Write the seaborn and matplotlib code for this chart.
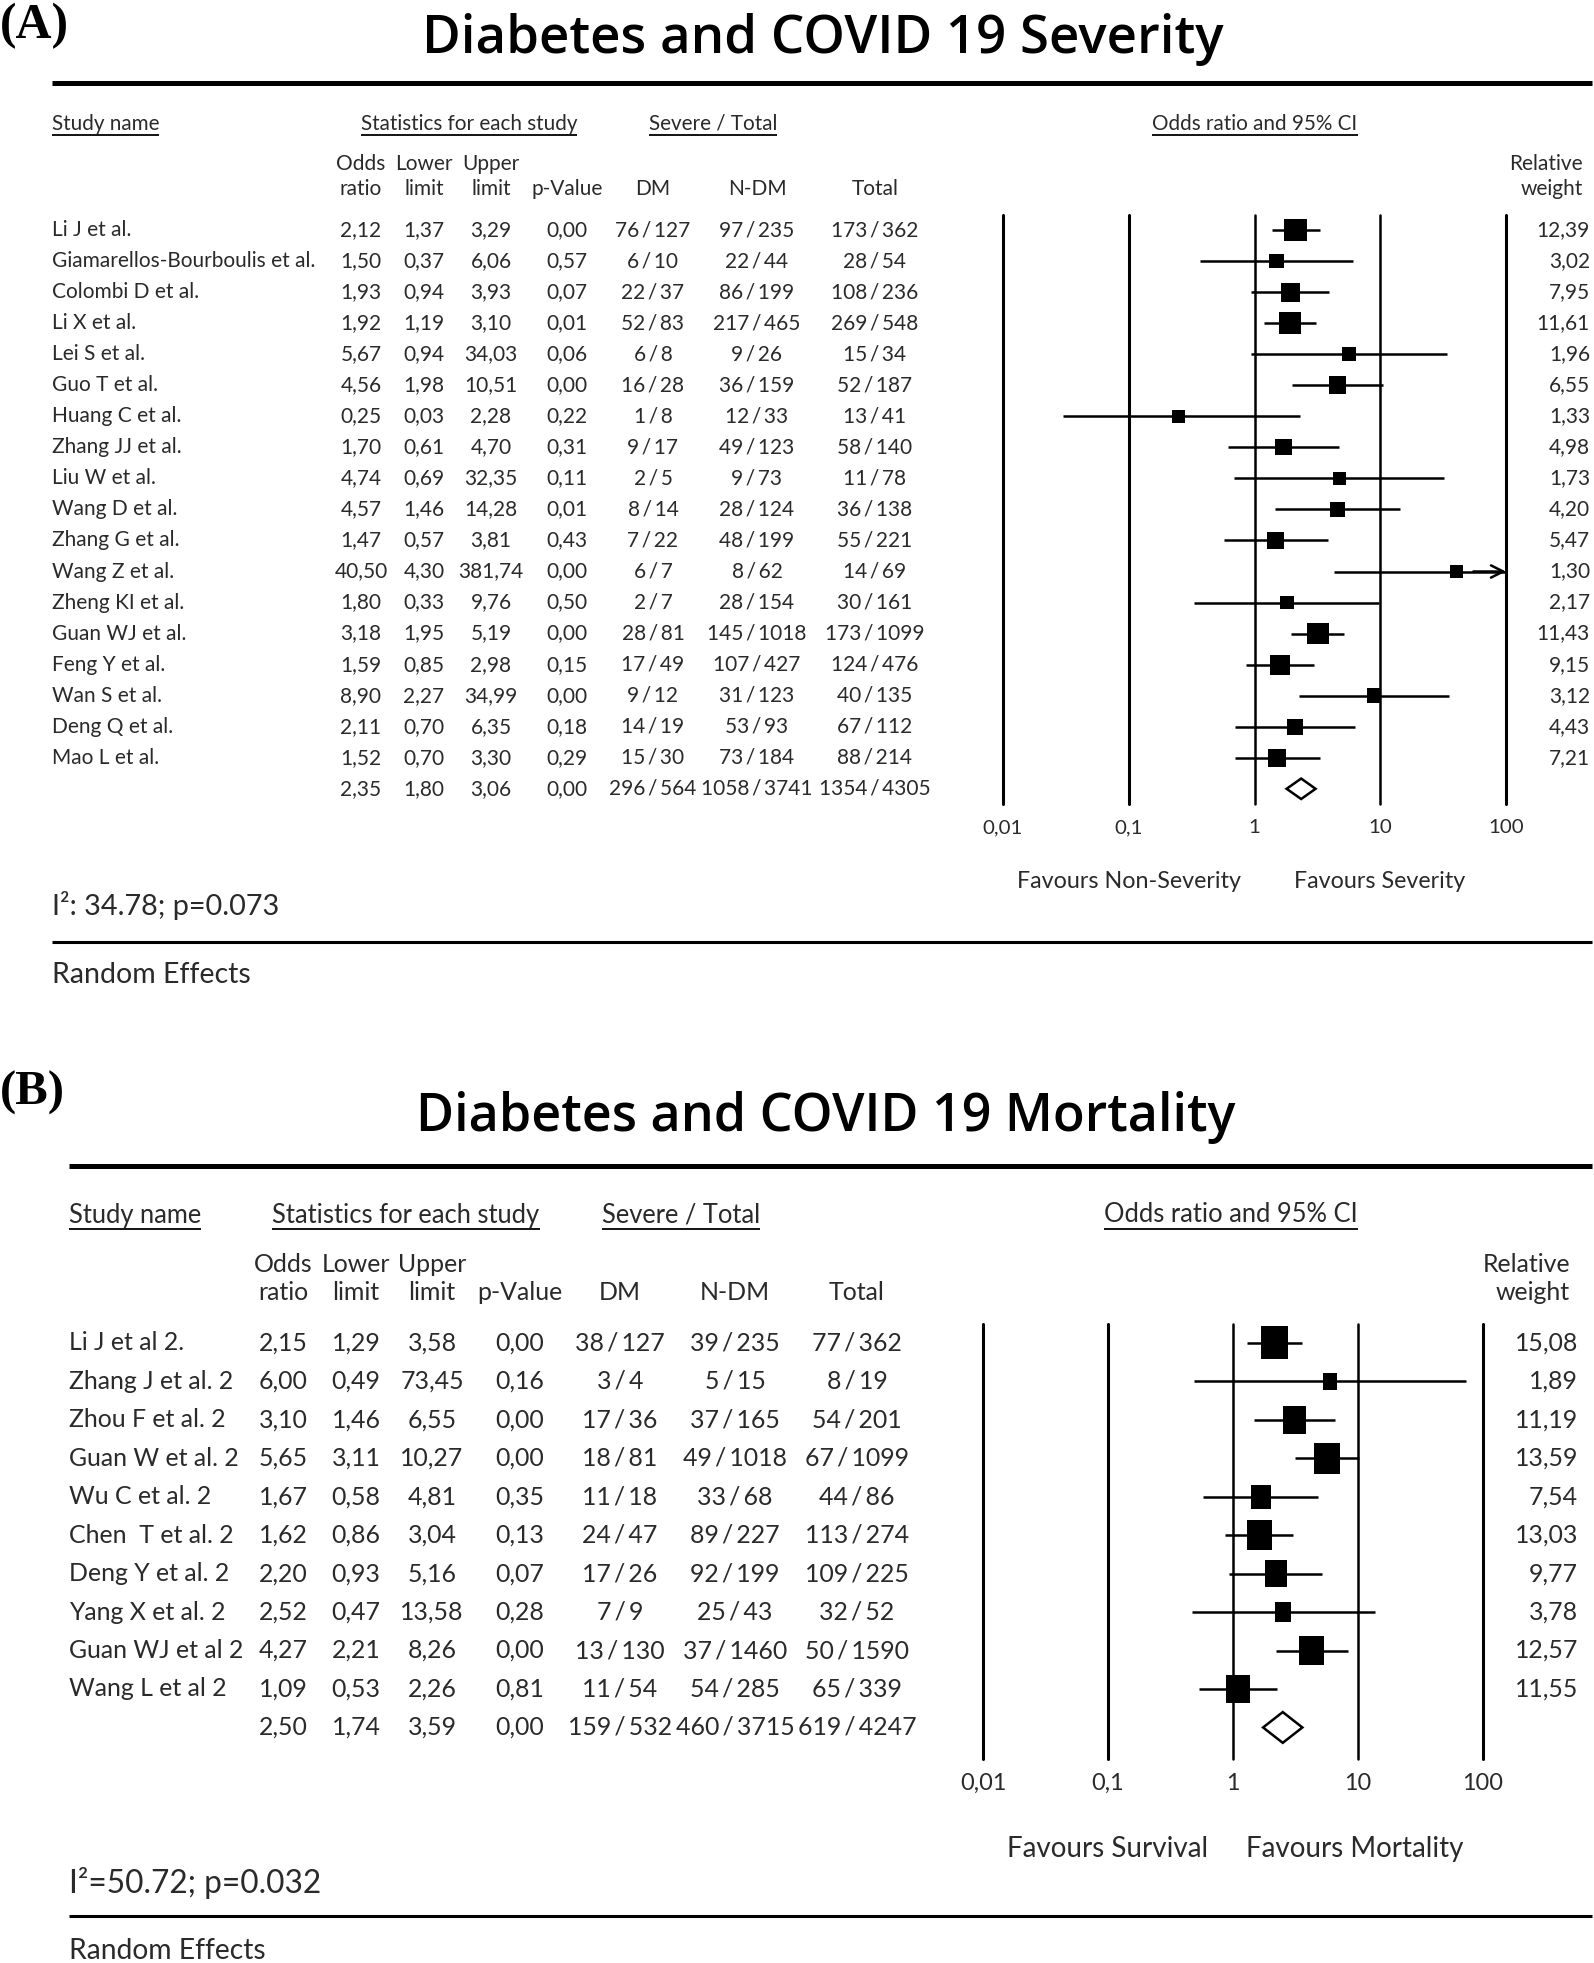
import numpy as np
import pandas as pd
import matplotlib
matplotlib.use("Agg")
import matplotlib.pyplot as plt
import matplotlib.transforms as mtransforms
from matplotlib import font_manager
import seaborn as sns

# ---------------- data: panel A (severity) ----------------
names_a = ["Li J et al.", "Giamarellos-Bourboulis et al.", "Colombi D et al.", "Li X et al.",
           "Lei S et al.", "Guo T et al.", "Huang C et al.", "Zhang JJ et al.", "Liu W et al.",
           "Wang D et al.", "Zhang G et al.", "Wang Z et al.", "Zheng KI et al.", "Guan WJ et al.",
           "Feng Y et al.", "Wan S et al.", "Deng Q et al.", "Mao L et al."]
or_a = [2.12, 1.50, 1.93, 1.92, 5.67, 4.56, 0.25, 1.70, 4.74, 4.57, 1.47, 40.50, 1.80, 3.18, 1.59, 8.90, 2.11, 1.52]
lo_a = [1.37, 0.37, 0.94, 1.19, 0.94, 1.98, 0.03, 0.61, 0.69, 1.46, 0.57, 4.30, 0.33, 1.95, 0.85, 2.27, 0.70, 0.70]
hi_a = [3.29, 6.06, 3.93, 3.10, 34.03, 10.51, 2.28, 4.70, 32.35, 14.28, 3.81, 381.74, 9.76, 5.19, 2.98, 34.99, 6.35, 3.30]
p_a = [0.00, 0.57, 0.07, 0.01, 0.06, 0.00, 0.22, 0.31, 0.11, 0.01, 0.43, 0.00, 0.50, 0.00, 0.15, 0.00, 0.18, 0.29]
dm_a = ["76 / 127", "6 / 10", "22 / 37", "52 / 83", "6 / 8", "16 / 28", "1 / 8", "9 / 17", "2 / 5",
        "8 / 14", "7 / 22", "6 / 7", "2 / 7", "28 / 81", "17 / 49", "9 / 12", "14 / 19", "15 / 30"]
ndm_a = ["97 / 235", "22 / 44", "86 / 199", "217 / 465", "9 / 26", "36 / 159", "12 / 33", "49 / 123", "9 / 73",
         "28 / 124", "48 / 199", "8 / 62", "28 / 154", "145 / 1018", "107 / 427", "31 / 123", "53 / 93", "73 / 184"]
tot_a = ["173 / 362", "28 / 54", "108 / 236", "269 / 548", "15 / 34", "52 / 187", "13 / 41", "58 / 140", "11 / 78",
         "36 / 138", "55 / 221", "14 / 69", "30 / 161", "173 / 1099", "124 / 476", "40 / 135", "67 / 112", "88 / 214"]
w_a = [12.39, 3.02, 7.95, 11.61, 1.96, 6.55, 1.33, 4.98, 1.73, 4.20, 5.47, 1.30, 2.17, 11.43, 9.15, 3.12, 4.43, 7.21]
sum_a = {"or": 2.35, "lo": 1.80, "hi": 3.06, "p": 0.00, "dm": "296 / 564", "ndm": "1058 / 3741", "tot": "1354 / 4305"}
het_a = "I²: 34.78; p=0.073"
title_a = "Diabetes and COVID 19 Severity"
fav_a = ["Favours Non-Severity", "Favours Severity"]

# ---------------- data: panel B (mortality) ----------------
names_b = ["Li J et al 2.", "Zhang J et al. 2", "Zhou F et al. 2", "Guan W et al. 2", "Wu C et al. 2",
           "Chen  T et al. 2", "Deng Y et al. 2", "Yang X et al. 2", "Guan WJ et al 2", "Wang L et al 2"]
or_b = [2.15, 6.00, 3.10, 5.65, 1.67, 1.62, 2.20, 2.52, 4.27, 1.09]
lo_b = [1.29, 0.49, 1.46, 3.11, 0.58, 0.86, 0.93, 0.47, 2.21, 0.53]
hi_b = [3.58, 73.45, 6.55, 10.27, 4.81, 3.04, 5.16, 13.58, 8.26, 2.26]
p_b = [0.00, 0.16, 0.00, 0.00, 0.35, 0.13, 0.07, 0.28, 0.00, 0.81]
dm_b = ["38 / 127", "3 / 4", "17 / 36", "18 / 81", "11 / 18", "24 / 47", "17 / 26", "7 / 9", "13 / 130", "11 / 54"]
ndm_b = ["39 / 235", "5 / 15", "37 / 165", "49 / 1018", "33 / 68", "89 / 227", "92 / 199", "25 / 43", "37 / 1460", "54 / 285"]
tot_b = ["77 / 362", "8 / 19", "54 / 201", "67 / 1099", "44 / 86", "113 / 274", "109 / 225", "32 / 52", "50 / 1590", "65 / 339"]
w_b = [15.08, 1.89, 11.19, 13.59, 7.54, 13.03, 9.77, 3.78, 12.57, 11.55]
sum_b = {"or": 2.50, "lo": 1.74, "hi": 3.59, "p": 0.00, "dm": "159 / 532", "ndm": "460 / 3715", "tot": "619 / 4247"}
het_b = "I²=50.72; p=0.032"
title_b = "Diabetes and COVID 19 Mortality"
fav_b = ["Favours Survival", "Favours Mortality"]

tick_vals = [0.01, 0.1, 1, 10, 100]
tick_labels = ["0,01", "0,1", "1", "10", "100"]

# ---------------- style ----------------
sns.set_theme(style="white")
avail = {f.name for f in font_manager.fontManager.ttflist}
BODY = "Liberation Sans Narrow" if "Liberation Sans Narrow" in avail else "Lato"
TITLE = "Open Sans"
SERIF = "Liberation Serif"
plt.rcParams["font.family"] = [BODY, "DejaVu Sans"]
TXT = "#2a2a2a"

W, H = 1594, 1963
fig = plt.figure(figsize=(W / 100, H / 100), dpi=100)
bg = fig.add_axes([0, 0, 1, 1], zorder=0)
bg.set_xlim(0, W)
bg.set_ylim(H, 0)
bg.axis("off")
renderer = fig.canvas.get_renderer()


def fit(s, target, family, weight="normal"):
    t = fig.text(0, 0, s, fontsize=10, family=[family, "DejaVu Sans"], fontweight=weight)
    w = t.get_window_extent(renderer).width
    t.remove()
    return 10 * target / w


def fmt(v):
    return f"{v:.2f}".replace(".", ",")


def frac(s):
    # tighter spacing around the slash, as in the reference typesetting
    return s.replace(" / ", "\u2009/\u2009")


def uline_text(x, y, s, size, ha):
    t = bg.text(x, y, s, fontsize=size, ha=ha, va="center", color=TXT)
    bb = t.get_window_extent(renderer)
    yb = H - bb.y0 + 1
    bg.plot([bb.x0, bb.x1], [yb, yb], color="black", lw=1.3, solid_capstyle="butt")


def panel(L, names, ors, los, his, ps, dms, ndms, tots, ws, summ, het, title, fav):
    bg.text(L["lab_x"], L["lab_y"], L["lab"], family=[SERIF], fontweight="bold",
            fontsize=fit(L["lab"], L["lab_w"], SERIF, "bold"), ha="left", va="center", color="black")
    bg.text(L["title_x"], L["title_y"], title, family=[TITLE], fontweight="semibold",
            fontsize=fit(title, L["title_w"], TITLE, "semibold"),
            ha="center", va="center", color="black")
    bg.plot([L["x0"], 1592], [L["top_line"], L["top_line"]], color="black", lw=3.6, solid_capstyle="butt")
    bg.plot([L["x0"], 1592], [L["bot_line"], L["bot_line"]], color="black", lw=2.2, solid_capstyle="butt")

    fs = fit(L["fit_name"], L["fit_w"], BODY)
    hs = fit("Statistics for each study", L["stat_w"], BODY)

    uline_text(L["x0"], L["hdr_y"], "Study name", hs, "left")
    uline_text(L["stat_c"], L["hdr_y"], "Statistics for each study", hs, "center")
    uline_text(L["sev_c"], L["hdr_y"], "Severe / Total", hs, "center")
    uline_text(L["ci_c"], L["hdr_y"], "Odds ratio and 95% CI", hs, "center")

    cols = L["cols"]
    h1 = ["Odds", "Lower", "Upper", "", "", "", ""]
    h2 = ["ratio", "limit", "limit", "p-Value", "DM", "N-DM", "Total"]
    for c, a, b in zip(cols, h1, h2):
        if a:
            bg.text(c, L["ch1"], a, fontsize=fs, ha="center", va="center", color=TXT)
        bg.text(c, L["ch2"], b, fontsize=fs, ha="center", va="center", color=TXT)
    bg.text(L["wh_r"], L["ch1"], "Relative", fontsize=fs, ha="right", va="center", color=TXT)
    bg.text(L["wh_r"], L["ch2"], "weight", fontsize=fs, ha="right", va="center", color=TXT)

    fx0, fx1, ft, fb = L["forest"]
    ax = fig.add_axes([fx0 / W, 1 - fb / H, (fx1 - fx0) / W, (fb - ft) / H], zorder=2)
    ax.patch.set_alpha(0)
    ax.set_xscale("log")
    ax.set_xlim(tick_vals[0], tick_vals[-1])
    ax.set_ylim(*L["ylim"])
    for sp in ax.spines.values():
        sp.set_visible(False)
    ax.set_xticks(tick_vals)
    ax.set_xticklabels(tick_labels)
    ax.xaxis.set_minor_locator(matplotlib.ticker.NullLocator())
    ax.tick_params(axis="x", length=0, pad=L["tick_pad"], labelsize=fit("0,01", L["tick_w"], BODY),
                   labelcolor=TXT)
    for v in tick_vals:
        ax.axvline(v, color="black", lw=2.2 if v in (0.01, 0.1, 100) else 1.8, clip_on=False, zorder=1)

    n = len(names)
    rows = np.arange(n)
    ax.hlines(rows, los, his, color="black", lw=1.8, zorder=2)
    xmax = ax.get_xlim()[1]
    for r, h in zip(rows, his):
        if h > xmax:
            ax.annotate("", xy=(xmax, r), xytext=(xmax * 0.55, r),
                        arrowprops=dict(arrowstyle="->", lw=1.8, color="black", mutation_scale=22,
                                        shrinkA=0, shrinkB=0), zorder=3)

    df = pd.DataFrame({"or": ors, "row": rows, "w": ws})
    side_px = L["sq_a"] + L["sq_b"] * df["w"]
    df["area"] = (side_px * L["sq_asp"] * 0.72) ** 2
    amin, amax = df["area"].min(), df["area"].max()
    asp = L["sq_asp"]
    marker = [(-0.5, -0.5 * asp), (0.5, -0.5 * asp), (0.5, 0.5 * asp), (-0.5, 0.5 * asp), (-0.5, -0.5 * asp)]
    sns.scatterplot(data=df, x="or", y="row", size="area", sizes=(amin, amax), size_norm=(amin, amax),
                    marker=marker, color="black", edgecolor="black", linewidth=0, legend=False,
                    ax=ax, zorder=4)
    ax.set_xlabel("")
    ax.set_ylabel("")
    ax.set_yticks([])

    r = n
    dh = L["dia_h"]
    ax.fill([summ["lo"], summ["or"], summ["hi"], summ["or"]], [r, r - dh, r, r + dh],
            facecolor="white", edgecolor="black", lw=1.8, zorder=4)

    tr = mtransforms.blended_transform_factory(bg.transData, ax.transData)
    for i in range(n):
        bg.text(L["x0"], i, names[i], transform=tr, fontsize=fs, ha="left", va="center", color=TXT)
        vals = [fmt(ors[i]), fmt(los[i]), fmt(his[i]), fmt(ps[i]), frac(dms[i]), frac(ndms[i]), frac(tots[i])]
        for c, v in zip(cols, vals):
            bg.text(c, i, v, transform=tr, fontsize=fs, ha="center", va="center", color=TXT)
        bg.text(L["w_r"], i, fmt(ws[i]), transform=tr, fontsize=fs, ha="right", va="center", color=TXT)
    svals = [fmt(summ["or"]), fmt(summ["lo"]), fmt(summ["hi"]), fmt(summ["p"]),
             frac(summ["dm"]), frac(summ["ndm"]), frac(summ["tot"])]
    for c, v in zip(cols, svals):
        bg.text(c, n, v, transform=tr, fontsize=fs, ha="center", va="center", color=TXT)

    ffs = fit(fav[0], L["fav_w"], BODY)
    bg.text(L["fav_c"][0], L["fav_y"], fav[0], fontsize=ffs, ha="center", va="center", color=TXT)
    bg.text(L["fav_c"][1], L["fav_y"], fav[1], fontsize=ffs, ha="center", va="center", color=TXT)

    bg.text(L["x0"], L["het_y"], het, fontsize=fit(het, L["het_w"], BODY), ha="left", va="center", color=TXT)
    bg.text(L["x0"], L["re_y"], "Random Effects", fontsize=fit("Random Effects", L["re_w"], BODY),
            ha="left", va="center", color=TXT)


LA = dict(lab="(A)", lab_x=0, lab_y=26, lab_w=69,
          title_x=823, title_y=39, title_w=800,
          x0=52, top_line=83, bot_line=942,
          fit_name="Giamarellos-Bourboulis et al.", fit_w=264, stat_w=217,
          hdr_y=124, stat_c=469, sev_c=713, ci_c=1255,
          ch1=164, ch2=189, cols=[361, 424, 491, 567, 653, 757, 875], wh_r=1583, w_r=1590,
          forest=(1003, 1506, 215, 804), ylim=(18.49, -0.485), tick_pad=11, tick_w=40,
          sq_a=12.0, sq_b=0.85, sq_asp=1.0, dia_h=0.33,
          fav_y=882, fav_c=(1129, 1380), fav_w=224,
          het_y=905, het_w=227, re_y=975, re_w=198)

LB = dict(lab="(B)", lab_x=0, lab_y=1093, lab_w=65,
          title_x=826, title_y=1118, title_w=818,
          x0=69, top_line=1166, bot_line=1916,
          fit_name="Zhang J et al. 2", fit_w=164, stat_w=268,
          hdr_y=1215, stat_c=406, sev_c=681, ci_c=1231,
          ch1=1265, ch2=1293, cols=[283, 356, 432, 520, 620, 735, 857], wh_r=1570, w_r=1578,
          forest=(983, 1483, 1324, 1759), ylim=(10.82, -0.49), tick_pad=10, tick_w=46,
          sq_a=12.5, sq_b=0.98, sq_asp=1.2, dia_h=0.4,
          fav_y=1849, fav_c=(1108, 1355), fav_w=200,
          het_y=1883, het_w=251, re_y=1951, re_w=197)

panel(LA, names_a, or_a, lo_a, hi_a, p_a, dm_a, ndm_a, tot_a, w_a, sum_a, het_a, title_a, fav_a)
panel(LB, names_b, or_b, lo_b, hi_b, p_b, dm_b, ndm_b, tot_b, w_b, sum_b, het_b, title_b, fav_b)

fig.savefig("out.png", dpi=100, facecolor="white")
